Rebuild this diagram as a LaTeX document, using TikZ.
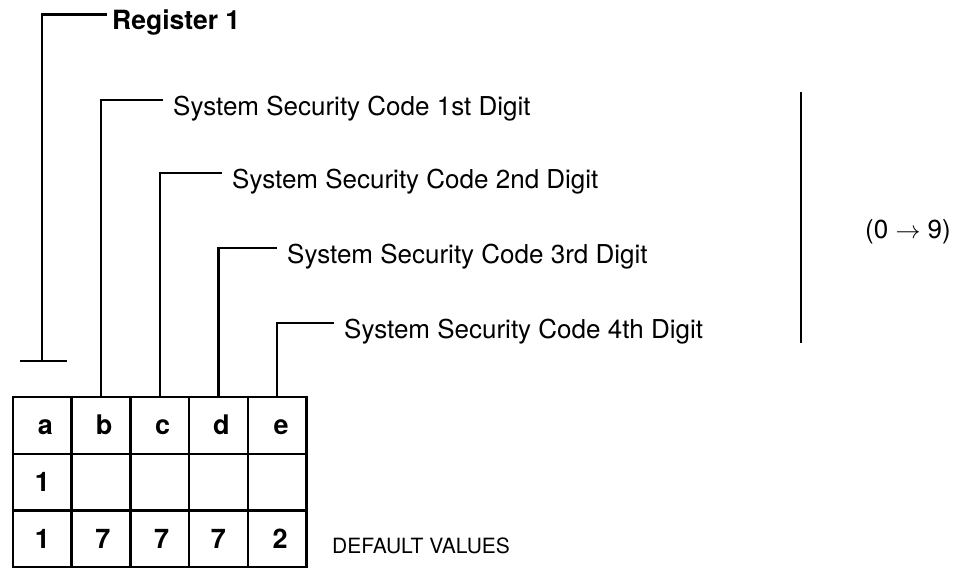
\documentclass[tikz,border=0pt]{standalone}
\usepackage{fontspec}
\setmainfont{TeX Gyre Heros}
\usetikzlibrary{positioning}

\begin{document}
\begin{tikzpicture}[
    x=1pt, y=1pt,
    node distance=0pt,
    cell/.style={
        draw,
        line width=2.4pt,
        outer sep=0pt,
        minimum width=58.7pt,
        minimum height=56.7pt,
        text height=19pt,
        text depth=0pt,
        font=\fontsize{27}{27}\selectfont\bfseries
    },
    lbl/.style={
        anchor=base west,
        inner xsep=10pt,
        font=\fontsize{26}{26}\selectfont
    },
    leader/.style={line width=2.2pt}
]

\useasboundingbox (0,0) rectangle (959,572);

% register cells
\node[cell] (a1) at (42.3,146.6) {\hspace*{6pt}a};
\node[cell] (b1) [right=of a1] {\hspace*{6pt}b};
\node[cell] (c1) [right=of b1] {\hspace*{6pt}c};
\node[cell] (d1) [right=of c1] {\hspace*{6pt}d};
\node[cell] (e1) [right=of d1] {\hspace*{8pt}e};

\node[cell] (a2) [below=of a1] {1};
\node[cell] (b2) [right=of a2] {};
\node[cell] (c2) [right=of b2] {};
\node[cell] (d2) [right=of c2] {};
\node[cell] (e2) [right=of d2] {};

\node[cell] (a3) [below=of a2] {1};
\node[cell] (b3) [right=of a3] {\hspace*{4pt}7};
\node[cell] (c3) [right=of b3] {\hspace*{4pt}7};
\node[cell] (d3) [right=of c3] {7};
\node[cell] (e3) [right=of d3] {\hspace*{6pt}2};

% labels
\node[lbl, inner xsep=5pt, font=\fontsize{26.5}{26.5}\selectfont\bfseries] (reg) at (107,542) {Register 1};
\node[lbl] (lb) at (163,456.5) {System Security Code 1st Digit};
\node[lbl] (lc) at (222,383.5) {System Security Code 2nd Digit};
\node[lbl] (ld) at (277,308.5) {System Security Code 3rd Digit};
\node[lbl] (le) at (334,233.5) {System Security Code 4th Digit};
\node[lbl, inner xsep=0pt, font=\fontsize{21}{21}\selectfont] (dv) at (332,18) {DEFAULT VALUES};

% leaders
\coordinate (stop) at ([yshift=36pt]a1.north);
\draw[leader] ([yshift=15.5pt]reg.base west) -| (stop);
\draw[leader] ([xshift=-22pt]stop) -- ([xshift=25pt]stop);
\draw[leader] ([yshift=15.5pt]lb.base west) -| (b1.north);
\draw[leader] ([yshift=15.5pt]lc.base west) -| (c1.north);
\draw[leader] ([yshift=15.5pt]ld.base west) -| (d1.north);
\draw[leader] ([yshift=15.5pt]le.base west) -| (e1.north);

% range
\coordinate (rtop) at (801,480);
\coordinate (rbot) at (801,229);
\draw[leader] (rtop) -- (rbot);
\node[lbl, inner xsep=5pt] (range) at (860,333.5) {(0 $\rightarrow$ 9)};

\end{tikzpicture}
\end{document}
